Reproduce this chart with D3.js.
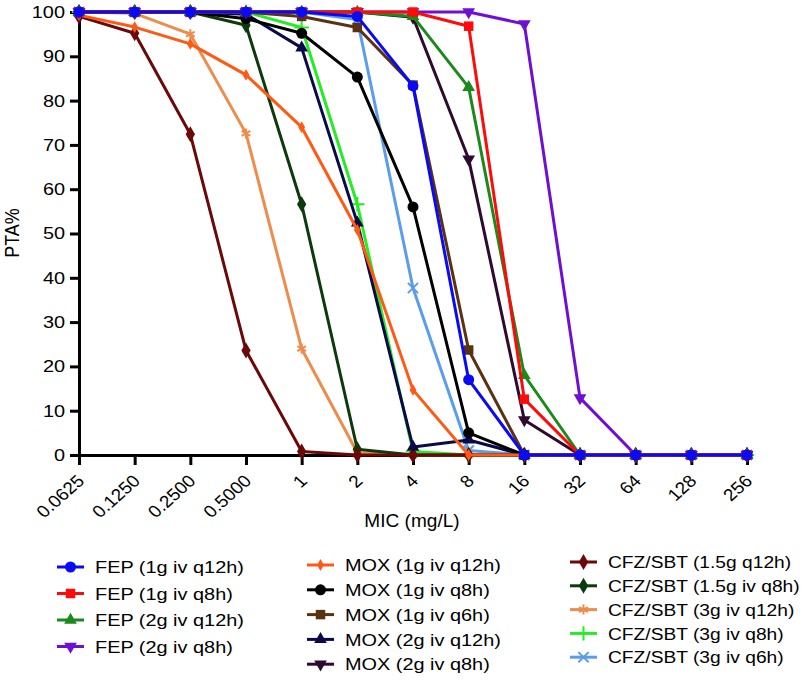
<!DOCTYPE html>
<html>
<head>
<meta charset="utf-8">
<script src="https://cdn.jsdelivr.net/npm/d3@7"></script>
<style>
body { margin: 0; background: #fff; }
text { font-family: "Liberation Sans", Arial, Helvetica, sans-serif; fill: #000; }
</style>
</head>
<body>
<div id="chart"></div>
<script>
// MIC categories (mg/L) and their tick labels
const micValues = [0.0625, 0.125, 0.25, 0.5, 1, 2, 4, 8, 16, 32, 64, 128, 256];
const micLabels = ["0.0625", "0.1250", "0.2500", "0.5000", "1", "2", "4", "8", "16", "32", "64", "128", "256"];
const yTicks = [0, 10, 20, 30, 40, 50, 60, 70, 80, 90, 100];

// PTA% per MIC
const fep1gQ12 = [100, 100, 100, 100, 100, 99, 83.3, 17, 0, 0, 0, 0, 0];
const fep1gQ8 = [100, 100, 100, 100, 100, 100, 100, 96.8, 12.6, 0, 0, 0, 0];
const fep2gQ12 = [100, 100, 100, 100, 100, 100, 99, 83, 18, 0, 0, 0, 0];
const fep2gQ8 = [100, 100, 100, 100, 100, 100, 100, 100, 97.3, 12.9, 0, 0, 0];
const mox1gQ12 = [99.3, 96.6, 92.8, 85.8, 74, 50.8, 14.7, 0, 0, 0, 0, 0, 0];
const mox1gQ8 = [100, 100, 100, 98.5, 95.2, 85.3, 56, 5, 0, 0, 0, 0, 0];
const mox1gQ6 = [100, 100, 100, 100, 99, 96.5, 83.5, 23.7, 0, 0, 0, 0, 0];
const mox2gQ12 = [100, 100, 100, 99.5, 91.9, 52.4, 1.8, 3.4, 0, 0, 0, 0, 0];
const mox2gQ8 = [100, 100, 100, 100, 100, 100, 98.8, 66.8, 7.9, 0, 0, 0, 0];
const cfz15Q12 = [99, 95.2, 72.4, 23.6, 0.8, 0, 0, 0, 0, 0, 0, 0, 0];
const cfz15Q8 = [100, 100, 100, 97, 56.6, 1.3, 0, 0, 0, 0, 0, 0, 0];
const cfz3Q12 = [100, 99.7, 95, 72.6, 24, 0.5, 0, 0, 0, 0, 0, 0, 0];
const cfz3Q8 = [100, 100, 100, 100, 96.5, 56.6, 0.8, 0, 0, 0, 0, 0, 0];
const cfz3Q6 = [100, 100, 100, 100, 100, 98.3, 37.7, 1, 0, 0, 0, 0, 0];

const seriesNames = [
    "FEP (1g iv q12h)", "FEP (1g iv q8h)", "FEP (2g iv q12h)", "FEP (2g iv q8h)",
    "MOX (1g iv q12h)", "MOX (1g iv q8h)", "MOX (1g iv q6h)", "MOX (2g iv q12h)", "MOX (2g iv q8h)",
    "CFZ/SBT (1.5g q12h)", "CFZ/SBT (1.5g iv q8h)", "CFZ/SBT (3g iv q12h)", "CFZ/SBT (3g iv q8h)", "CFZ/SBT (3g iv q6h)"
];
const seriesValues = [fep1gQ12, fep1gQ8, fep2gQ12, fep2gQ8, mox1gQ12, mox1gQ8, mox1gQ6, mox2gQ12, mox2gQ8,
    cfz15Q12, cfz15Q8, cfz3Q12, cfz3Q8, cfz3Q6];

const colours = ["#0a0af5", "#ff0a0a", "#1a8a1a", "#6e0fd2", "#ff5a14", "#000000", "#5a3212", "#0a0a4a", "#2e0a2e",
    "#6b0808", "#0c3a0c", "#ee8c4c", "#26ec26", "#5c9cec"];
const markers = ["circle", "square", "triangle", "down", "smalldiamond", "circle", "square", "triangle", "down",
    "diamond", "diamond", "asterisk", "plus", "times"];

const series = seriesNames.map((name, i) => ({
    name: name,
    colour: colours[i],
    marker: markers[i],
    values: micValues.map((m, j) => ({ mic: m, pta: seriesValues[i][j] }))
}));

const W = 807, H = 683;
const fontFamily = "'Liberation Sans', Arial, Helvetica, sans-serif";

const svg = d3.select("#chart").append("svg")
    .attr("width", W)
    .attr("height", H)
    .style("background-color", "#fff");

const xScale = d3.scaleLog().base(2).domain([0.0625, 256]).range([79, 747]);
const yScale = d3.scaleLinear().domain([0, 100]).range([455, 12]);

// keep the left edge of a text fixed while widening it
function stretch(sel, s) {
    sel.each(function () {
        const t = d3.select(this);
        const x = +t.attr("x") || 0;
        t.attr("transform", "translate(" + (x * (1 - s)) + ",0) scale(" + s + ",1)");
    });
}

// axes
const yAxis = d3.axisLeft(yScale).tickValues(yTicks).tickSize(9).tickPadding(5).tickSizeOuter(0);
const gy = svg.append("g")
    .attr("transform", "translate(79,0)")
    .call(yAxis);
gy.selectAll("text").style("font-size", "17px").style("font-family", fontFamily).attr("fill", "#000");
stretch(gy.selectAll("text"), 1.17);

const xAxis = d3.axisBottom(xScale).tickValues(micValues).tickFormat((d, i) => micLabels[i])
    .tickSize(10).tickSizeOuter(0);
const gx = svg.append("g")
    .attr("transform", "translate(0,455)")
    .call(xAxis);
gx.selectAll("text")
    .style("font-size", "17px")
    .style("font-family", fontFamily)
    .attr("fill", "#000")
    .attr("text-anchor", "end")
    .attr("x", 0).attr("y", 0).attr("dy", "0")
    .attr("transform", "translate(6,27) scale(1.12,1) rotate(-45)");

[gx, gy].forEach(g => {
    g.select(".domain").attr("stroke", "#000").attr("stroke-width", 3);
    g.selectAll(".tick line").attr("stroke", "#000").attr("stroke-width", 3);
});

svg.append("text")
    .attr("x", 412).attr("y", 527)
    .attr("text-anchor", "middle")
    .style("font-size", "18px")
    .text("MIC (mg/L)")
    .attr("transform", "translate(" + (412 * (1 - 1.06)) + ",0) scale(1.06,1)");

svg.append("text")
    .attr("transform", "translate(19,233) scale(1.1,1) rotate(-90)")
    .attr("text-anchor", "middle")
    .style("font-size", "18px")
    .text("PTA%");

// markers
function drawMarker(g, type, colour) {
    let sym, size, stroke = false, rot = 0;
    if (type === "circle") { sym = d3.symbolCircle; size = 95; }
    else if (type === "square") { sym = d3.symbolSquare; size = 90; }
    else if (type === "triangle") { sym = d3.symbolTriangle; size = 70; }
    else if (type === "down") { sym = d3.symbolTriangle; size = 70; rot = 180; }
    else if (type === "diamond") { sym = d3.symbolDiamond; size = 75; }
    else if (type === "smalldiamond") { sym = d3.symbolDiamond; size = 40; }
    else if (type === "asterisk") { sym = d3.symbolAsterisk; size = 70; stroke = true; }
    else if (type === "plus") { sym = d3.symbolPlus; size = 70; stroke = true; }
    else { sym = d3.symbolTimes; size = 70; stroke = true; }
    const p = g.append("path")
        .attr("d", d3.symbol().type(sym).size(size)())
        .attr("transform", rot ? "rotate(" + rot + ")" : null);
    if (stroke) p.attr("fill", "none").attr("stroke", colour).attr("stroke-width", 2);
    else p.attr("fill", colour);
}

const lineGen = d3.line()
    .x(d => xScale(d.mic))
    .y(d => yScale(d.pta));

// first series ends up on top
series.slice().reverse().forEach(s => {
    const g = svg.append("g");
    g.append("path")
        .datum(s.values)
        .attr("fill", "none")
        .attr("stroke", s.colour)
        .attr("stroke-width", 3)
        .attr("stroke-linejoin", "round")
        .attr("d", lineGen);
    s.values.forEach(d => {
        const mg = g.append("g").attr("transform", "translate(" + xScale(d.mic) + "," + yScale(d.pta) + ")");
        drawMarker(mg, s.marker, s.colour);
    });
});

// legend, three columns
const legendCols = [
    { items: [0, 1, 2, 3], x: 57, y: 567, step: 26.5, s: 1.17 },
    { items: [4, 5, 6, 7, 8], x: 307, y: 565, step: 24.8, s: 1.17 },
    { items: [9, 10, 11, 12, 13], x: 570, y: 562, step: 23.8, s: 1.13 }
];
legendCols.forEach(col => {
    col.items.forEach((idx, k) => {
        const s = series[idx];
        const y = col.y + k * col.step;
        const g = svg.append("g");
        g.append("line")
            .attr("x1", col.x).attr("x2", col.x + 27)
            .attr("y1", y).attr("y2", y)
            .attr("stroke", s.colour).attr("stroke-width", 3);
        const mg = g.append("g").attr("transform", "translate(" + (col.x + 13.5) + "," + y + ")");
        drawMarker(mg, s.marker, s.colour);
        const t = g.append("text")
            .attr("x", col.x + 38).attr("y", y)
            .attr("dy", "0.36em")
            .style("font-size", "17px")
            .text(s.name);
        stretch(t, col.s);
    });
});
</script>
</body>
</html>
